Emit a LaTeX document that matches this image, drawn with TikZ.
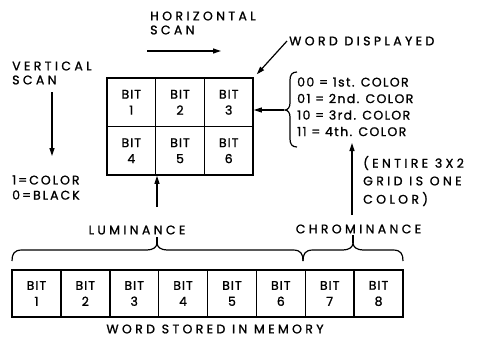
\documentclass[tikz,border=0pt]{standalone}
\usepackage{fontspec}
\setmainfont{Poppins}[LetterSpace=27,FakeBold=1.2]
\newfontfamily\codefont{Poppins}[LetterSpace=16,FakeBold=1.2]
\newfontfamily\linefont{Poppins}[LetterSpace=11,FakeBold=1.2]
\newfontfamily\cellfont{Poppins}[LetterSpace=8,FakeBold=1.2]
\usetikzlibrary{arrows.meta}
\begin{document}
\begin{tikzpicture}[x=1pt,y=-1pt,
  txt/.style={font=\fontsize{12.5}{15}\selectfont, inner sep=0pt},
  code/.style={font=\codefont\fontsize{12.5}{15}\selectfont, inner sep=0pt},
  cline/.style={font=\linefont\fontsize{12.5}{15}\selectfont, inner sep=0pt},
  cell/.style={draw, line width=1.5pt, minimum width=48.7pt, minimum height=48.5pt,
    inner sep=0pt, align=center, font=\cellfont\fontsize{12.5}{16}\selectfont},
  mem/.style={cell, minimum width=48.875pt, minimum height=47pt},
  arr/.style={line width=1.2pt, -{Triangle[length=8pt,width=5pt]}},
  br/.style={line width=1.2pt}]
\useasboundingbox (0,0) rectangle (482,338);
% grid
\node[cell] (c1) at (131.3,102.3) {BIT\\1};
\node[cell] (c2) at (180,102.3) {BIT\\2};
\node[cell] (c3) at (228.7,102.3) {BIT\\3};
\node[cell] (c4) at (131.3,150.8) {BIT\\4};
\node[cell] (c5) at (180,150.8) {BIT\\5};
\node[cell] (c6) at (228.7,150.8) {BIT\\6};
% memory word
\foreach \i in {1,...,8}{
  \node[mem] (m\i) at ({12+48.875*(\i-0.5)},293.5) {BIT\\\i};
}
% scans
\node[txt, anchor=west] (hs1) at (150,16) {HORIZONTAL};
\node[txt, anchor=west] (hs2) at (150,30) {SCAN};
\coordinate (ha) at (147,51);
\coordinate (hb) at (221,51);
\draw[arr] (ha) -- (hb);
\node[txt, anchor=west] (vs1) at (12,66) {VERTICAL};
\node[txt, anchor=west] (vs2) at (12,80) {SCAN};
\coordinate (va) at (52,92);
\coordinate (vb) at (52,156);
\draw[arr] (va) -- (vb);
\node[code, anchor=west] (k1) at (12,180) {1=COLOR};
\node[code, anchor=west] (k2) at (12,195) {0=BLACK};
% word displayed
\node[txt, anchor=west] (wd) at (289,41) {WORD DISPLAYED};
\draw[arr] ([xshift=-2pt]wd.west) -- ([shift={(3,-3)}]c3.north east);
% colour codes
\node[cline, anchor=west] (o1) at (297,82) {00 = 1st. COLOR};
\node[cline, anchor=west] (o2) at (297,98.5) {01 = 2nd. COLOR};
\node[cline, anchor=west] (o3) at (297,115) {10 = 3rd. COLOR};
\node[cline, anchor=west] (o4) at (297,131.5) {11 = 4th. COLOR};
\draw[br] (297,72) .. controls (292,72) and (290,75) .. (290,80) -- (290,103)
  .. controls (290,107) and (288,110) .. (285,110)
  .. controls (288,110) and (290,113) .. (290,117) -- (290,139)
  .. controls (290,144) and (292,147) .. (297,147);
\coordinate (bt) at (284,110);
\draw[arr] (bt) -- (bt -| c3.east);
% entire grid note
\node[txt, anchor=west] (e1) at (363,163) {(ENTIRE 3X2};
\node[txt, anchor=west] (e2) at (363,181) {GRID IS ONE};
\node[txt, anchor=west] (e3) at (363,199) {COLOR)};
% luminance / chrominance
\node[txt] (lum) at (137,230) {LUMINANCE};
\node[txt] (chr) at (358.5,229) {CHROMINANCE};
\coordinate (la) at (157,207);
\draw[arr] (la) -- (la |- c4.south);
\coordinate (ca) at (352,215);
\coordinate (cb) at (352,143);
\draw[arr] (ca) -- (cb);
\draw[br] (157,237) -- (157,244);
\draw[br] (353,235) -- (353,243);
\draw[br] (12,261) .. controls (12,254) and (14,250) .. (22,250) -- (147,250)
  .. controls (153,250) and (157,247) .. (157,243)
  .. controls (157,247) and (161,250) .. (167,250) -- (293,250)
  .. controls (301,250) and (303,254) .. (303,261);
\draw[br] (303,261) .. controls (303,254) and (305,250) .. (313,250) -- (343,250)
  .. controls (349,250) and (353,247) .. (353,243)
  .. controls (353,247) and (357,250) .. (363,250) -- (393,250)
  .. controls (401,250) and (403,254) .. (403,261);
% caption
\node[txt] (cap) at (215,329) {WORD STORED IN MEMORY};
\end{tikzpicture}
\end{document}
